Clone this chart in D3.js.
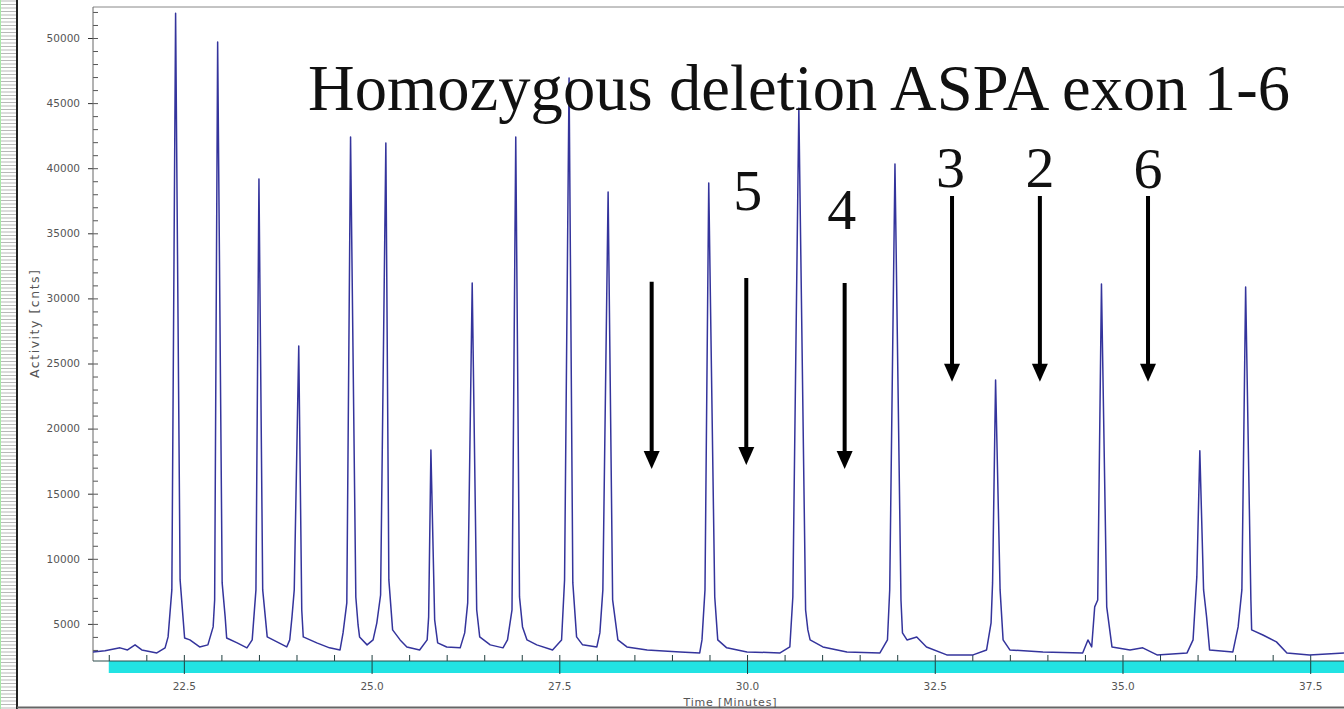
<!DOCTYPE html>
<html>
<head>
<meta charset="utf-8">
<script src="https://cdn.jsdelivr.net/npm/d3@7"></script>
<style>
  body { margin: 0; background: #fff; }
  svg { display: block; }
</style>
</head>
<body>
<svg id="chart"></svg>
<script>
// trace: [time (minutes), activity (cnts)]
const trace = [
    [21.29, 2850], [21.45, 2930], [21.65, 3160], [21.75, 3000], [21.85, 3390], [21.94, 3000],
    [22.14, 2770], [22.25, 3160], [22.29, 4000], [22.34, 7610], [22.39, 51900], [22.45, 8380],
    [22.51, 3920], [22.58, 3770], [22.71, 3230], [22.82, 3390], [22.89, 4770], [22.91, 6840],
    [22.95, 49700], [23.01, 8150], [23.05, 5540], [23.07, 3920], [23.21, 3540], [23.34, 3160],
    [23.41, 3770], [23.43, 5310], [23.46, 7610], [23.50, 39180], [23.55, 7610], [23.61, 4000],
    [23.74, 3620], [23.87, 3230], [23.91, 3770], [23.94, 5540], [23.97, 7610], [24.03, 26350],
    [24.07, 6070], [24.09, 4000], [24.27, 3540], [24.44, 3160], [24.58, 3000], [24.62, 4310],
    [24.67, 6610], [24.72, 42400], [24.79, 7070], [24.82, 4920], [24.84, 4000], [24.94, 3390],
    [25.02, 3770], [25.07, 5080], [25.12, 7220], [25.19, 41940], [25.23, 8380], [25.28, 4540],
    [25.38, 3770], [25.47, 3230], [25.64, 3000], [25.74, 3770], [25.76, 5540], [25.79, 18360],
    [25.84, 5310], [25.88, 3540], [26.00, 3230], [26.18, 3160], [26.24, 4310], [26.28, 6610],
    [26.34, 31190], [26.40, 6070], [26.44, 4000], [26.58, 3390], [26.75, 3160], [26.81, 3770],
    [26.87, 6070], [26.92, 42400], [26.97, 7070], [27.01, 4770], [27.07, 3770], [27.20, 3390],
    [27.41, 3000], [27.53, 3770], [27.57, 8380], [27.63, 46930], [27.68, 8150], [27.73, 4000],
    [27.81, 3390], [28.00, 3230], [28.04, 4310], [28.08, 7610], [28.15, 38180], [28.21, 6840],
    [28.28, 3770], [28.40, 3230], [28.67, 3000], [29.11, 2850], [29.37, 2770], [29.40, 3770],
    [29.44, 7610], [29.49, 38870], [29.57, 7070], [29.61, 3770], [29.73, 3160], [30.00, 2850],
    [30.44, 2770], [30.57, 3230], [30.61, 7070], [30.69, 44630], [30.78, 6070], [30.81, 4540],
    [30.84, 3770], [31.01, 3230], [31.33, 2850], [31.77, 2770], [31.87, 3770], [31.90, 7610],
    [31.97, 40330], [32.05, 6840], [32.07, 4310], [32.13, 3770], [32.26, 4000], [32.39, 3230],
    [32.66, 2620], [33.01, 2620], [33.19, 3000], [33.25, 5080], [33.27, 8150], [33.31, 23740],
    [33.37, 7610], [33.41, 3770], [33.50, 3000], [33.94, 2850], [34.47, 2770], [34.54, 3770],
    [34.59, 3230], [34.63, 6310], [34.67, 6840], [34.72, 31110], [34.79, 6310], [34.86, 3230],
    [35.10, 3000], [35.27, 3160], [35.46, 2620], [35.86, 2770], [35.94, 3770], [35.99, 8610],
    [36.03, 18290], [36.08, 7610], [36.12, 5540], [36.16, 3000], [36.47, 2850], [36.54, 4770],
    [36.59, 7610], [36.64, 30880], [36.71, 6840], [36.72, 4540], [36.87, 4150], [37.05, 3620],
    [37.19, 2770], [37.49, 2620], [37.95, 2770]
];

const yMajorTicks = [5000, 10000, 15000, 20000, 25000, 30000, 35000, 40000, 45000, 50000];
const xMajorTicks = [22.5, 25, 27.5, 30, 32.5, 35, 37.5];
const xTickLabels = ['22.5', '25.0', '27.5', '30.0', '32.5', '35.0', '37.5'];

// annotation arrows (missing exons)
const arrowTimes = [28.73, 29.99, 31.30, 32.73, 33.90, 35.34];
const arrowTops = [31270, 31570, 31190, 37870, 37870, 37870];
const arrowTips = [16900, 17210, 16900, 23590, 23590, 23590];

const exonLabels = ['5', '4', '3', '2', '6'];
const exonLabelTimes = [30.01, 31.26, 32.71, 33.90, 35.34];
const exonLabelValues = [36790, 35340, 38560, 38560, 38480];

const title = 'Homozygous deletion ASPA exon 1-6';

function drawChart() {
    const width = 1344;
    const height = 709;
    const axisY = 661;

    const svg = d3.select('#chart')
        .attr('width', width)
        .attr('height', height);

    const x = d3.scaleLinear().domain([21.29, 37.95]).range([93, 1344]);
    const y = d3.scaleLinear().domain([0, 50000]).range([689, 38]);

    // striped strip on the far left
    const strip = svg.append('g');
    strip.selectAll('line')
        .data(d3.range(1, height, 3.5))
        .enter().append('line')
        .attr('x1', 0).attr('x2', 16)
        .attr('y1', d => d).attr('y2', d => d)
        .style('stroke', '#b9b9b9')
        .style('stroke-width', 1);
    strip.append('line')
        .attr('x1', 0.5).attr('x2', 0.5).attr('y1', 0).attr('y2', height)
        .style('stroke', '#a8e8a8');
    strip.append('line')
        .attr('x1', 17).attr('x2', 17).attr('y1', 0).attr('y2', height)
        .style('stroke', '#222').style('stroke-width', 2);

    // frame lines
    svg.append('line')
        .attr('x1', 93).attr('x2', width).attr('y1', 7).attr('y2', 7)
        .style('stroke', '#888');
    svg.append('line')
        .attr('x1', 17).attr('x2', width).attr('y1', 707.5).attr('y2', 707.5)
        .style('stroke', '#666').style('stroke-width', 2);

    // cyan band under the x axis
    svg.append('rect')
        .attr('x', x(21.5))
        .attr('y', axisY)
        .attr('width', width - x(21.5))
        .attr('height', 12)
        .style('fill', '#22e3e3');

    // y axis
    const yMajor = svg.append('g')
        .attr('transform', 'translate(93,0)')
        .call(d3.axisLeft(y).tickValues(yMajorTicks).tickSize(5).tickPadding(8).tickFormat(d3.format('d')));
    yMajor.select('.domain').remove();
    yMajor.selectAll('.tick line').style('stroke', '#333');
    yMajor.selectAll('text')
        .style('font-family', 'DejaVu Sans')
        .style('font-size', '10.5px')
        .style('fill', '#555');

    const yMinor = svg.append('g')
        .attr('transform', 'translate(93,0)')
        .call(d3.axisRight(y).tickValues(d3.range(3000, 52001, 1000)).tickSize(5).tickFormat(''));
    yMinor.select('.domain').remove();
    yMinor.selectAll('.tick line').style('stroke', '#555');

    svg.append('line')
        .attr('x1', 93).attr('x2', 93).attr('y1', 7).attr('y2', axisY)
        .style('stroke', '#666');

    // x axis
    const xMinor = svg.append('g')
        .attr('transform', `translate(0,${axisY})`)
        .call(d3.axisTop(x).tickValues(d3.range(21.5, 37.51, 0.5)).tickSize(6).tickFormat(''));
    xMinor.select('.domain').remove();
    xMinor.selectAll('.tick line').style('stroke', '#1f3f3f');

    const xMajor = svg.append('g')
        .attr('transform', `translate(0,${axisY})`)
        .call(d3.axisBottom(x).tickValues(xMajorTicks).tickSize(13).tickPadding(9)
            .tickFormat((d, i) => xTickLabels[i]));
    xMajor.select('.domain').remove();
    xMajor.selectAll('.tick line').style('stroke', '#1f3f3f');
    xMajor.selectAll('text')
        .style('font-family', 'DejaVu Sans')
        .style('font-size', '10.5px')
        .style('fill', '#555');

    svg.append('line')
        .attr('x1', 93).attr('x2', width).attr('y1', axisY).attr('y2', axisY)
        .style('stroke', '#2d4d4d');

    // axis titles
    svg.append('text')
        .attr('x', 730).attr('y', 706)
        .attr('text-anchor', 'middle')
        .attr('textLength', 93)
        .style('font-family', 'DejaVu Sans')
        .style('font-size', '11px')
        .style('fill', '#555')
        .text('Time [Minutes]');
    svg.append('text')
        .attr('transform', 'translate(39,324) rotate(-90)')
        .attr('text-anchor', 'middle')
        .attr('textLength', 108)
        .style('font-family', 'DejaVu Sans')
        .style('font-size', '12.5px')
        .style('fill', '#555')
        .text('Activity [cnts]');

    // the trace
    const line = d3.line()
        .x(d => x(d[0]))
        .y(d => y(d[1]));
    svg.append('path')
        .datum(trace)
        .attr('d', line)
        .style('fill', 'none')
        .style('stroke', '#34349c')
        .style('stroke-width', 1.5)
        .style('stroke-linejoin', 'round');

    // title
    svg.append('text')
        .attr('x', 308).attr('y', 110)
        .style('font-family', 'Liberation Serif')
        .style('font-size', '64.5px')
        .attr('textLength', 982)
        .style('fill', '#111')
        .text(title);

    // arrows
    const arrows = svg.append('g');
    arrowTimes.forEach((t, i) => {
        const ax = x(t);
        const top = y(arrowTops[i]);
        const tip = y(arrowTips[i]);
        arrows.append('line')
            .attr('x1', ax).attr('x2', ax)
            .attr('y1', top).attr('y2', tip - 14)
            .style('stroke', '#000')
            .style('stroke-width', 4);
        arrows.append('path')
            .attr('d', `M${ax - 8},${tip - 18} L${ax + 8},${tip - 18} L${ax},${tip} Z`)
            .style('fill', '#000');
    });

    // exon numbers
    svg.append('g').selectAll('text')
        .data(exonLabels)
        .enter().append('text')
        .attr('x', (d, i) => x(exonLabelTimes[i]))
        .attr('y', (d, i) => y(exonLabelValues[i]))
        .attr('text-anchor', 'middle')
        .style('font-family', 'Liberation Serif')
        .style('font-size', '58px')
        .style('fill', '#111')
        .text(d => d);
}

drawChart();
</script>
</body>
</html>
